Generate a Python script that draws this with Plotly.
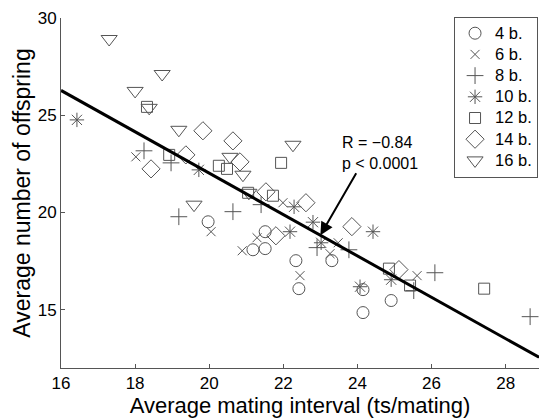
import numpy as np
import plotly.graph_objects as go

# Average mating interval (ts/mating) and average number of offspring per run,
# grouped by the number of bugs in the population.
x_4b = [19.97, 21.18, 21.51, 21.51, 22.34, 22.42, 23.31, 24.15, 24.91, 24.15]
y_4b = [19.52, 18.08, 18.14, 19.01, 17.52, 16.08, 17.52, 16.03, 15.47, 14.85]

x_6b = [18.02, 20.05, 20.89, 21.29, 21.99, 22.45, 23.26, 23.48, 25.61]
y_6b = [22.86, 19.01, 18.03, 18.70, 20.50, 16.75, 17.88, 18.44, 16.75]

x_8b = [18.24, 18.97, 19.18, 20.64, 21.40, 22.91, 23.77, 25.52, 26.09, 28.66]
y_8b = [23.17, 22.55, 19.78, 20.04, 20.40, 18.19, 18.08, 15.98, 16.90, 14.64]

x_10b = [16.43, 19.72, 22.29, 22.80, 22.18, 23.02, 24.42, 24.91, 24.07]
y_10b = [24.76, 22.19, 20.29, 19.50, 19.01, 18.44, 19.01, 16.54, 16.18]

x_12b = [18.32, 18.92, 20.26, 20.48, 21.05, 21.72, 21.94, 24.85, 25.42, 27.42]
y_12b = [25.43, 22.96, 22.40, 22.24, 21.01, 20.86, 22.55, 17.11, 16.24, 16.08]

x_14b = [19.83, 20.64, 18.43, 19.37, 20.83, 21.53, 22.61, 21.80, 23.85, 25.12]
y_14b = [24.20, 23.68, 22.24, 22.96, 22.60, 21.06, 20.50, 18.80, 19.27, 17.06]

x_16b = [17.30, 18.73, 18.00, 18.38, 19.18, 20.56, 20.91, 22.26, 19.59, 21.07]
y_16b = [28.92, 27.12, 26.25, 25.38, 24.25, 22.86, 21.94, 23.48, 20.40, 21.01]

series_names = ["4 b.", "6 b.", "8 b.", "10 b.", "12 b.", "14 b.", "16 b."]

# Least-squares fit line: y = fit_intercept + fit_slope * x
fit_slope = -1.064
fit_intercept = 43.30
fit_x_range = [16.0, 28.9]

# Correlation statistics shown on the chart
corr_r = "−0.84"
corr_p = "0.0001"

x_ticks = [16, 18, 20, 22, 24, 26, 28]
y_ticks = [15, 20, 25, 30]

MARK = "#555555"
FONT = "Liberation Sans, Arial, Helvetica, sans-serif"

groups = [
    (x_4b, y_4b, "circle-open", 12),
    (x_6b, y_6b, "x-thin-open", 9),
    (x_8b, y_8b, "cross-thin-open", 12),
    (x_10b, y_10b, "asterisk-open", 12),
    (x_12b, y_12b, "square-open", 11),
    (x_14b, y_14b, "diamond-open", 14),
    (x_16b, y_16b, "triangle-down-open", 14),
]

fig = go.Figure()

for name, (xs, ys, sym, size) in zip(series_names, groups):
    fig.add_trace(go.Scatter(
        x=xs, y=ys, mode="markers",
        # legend rows stay compact while the entry text is drawn a bit larger
        name=f"<span style='font-size:16.5px'>{name}</span>",
        marker=dict(symbol=sym, size=size, color=MARK,
                    line=dict(color=MARK, width=1)),
    ))

fit_x = np.array(fit_x_range)
fit_y = fit_intercept + fit_slope * fit_x
fig.add_trace(go.Scatter(
    x=fit_x, y=fit_y, mode="lines", showlegend=False,
    line=dict(color="black", width=3),
))

# Arrow pointing at the fitted line
arrow_tip_x = 23.0
arrow_tip_y = fit_intercept + fit_slope * arrow_tip_x
fig.add_annotation(
    x=arrow_tip_x, y=arrow_tip_y, ax=23.99, ay=22.09,
    xref="x", yref="y", axref="x", ayref="y",
    text="", showarrow=True, arrowhead=2, arrowsize=1.3,
    arrowwidth=2, arrowcolor="black",
)
fig.add_annotation(
    x=23.52, y=23.07, xref="x", yref="y",
    text=f"R = {corr_r}<br>p &lt; {corr_p}",
    showarrow=False, xanchor="left", yanchor="middle", align="left",
    font=dict(family=FONT, size=16, color="black"),
)

axis_common = dict(
    showline=True, linecolor=MARK, linewidth=1,
    ticks="inside", ticklen=4, tickcolor=MARK,
    showgrid=False, zeroline=False,
    tickfont=dict(family=FONT, size=17, color="black"),
)

fig.update_layout(
    width=539, height=418,
    margin=dict(l=61, r=0, t=18, b=50),
    paper_bgcolor="white", plot_bgcolor="white",
    xaxis=dict(range=fit_x_range, tickvals=x_ticks,
               title=dict(text="Average mating interval (ts/mating)",
                          font=dict(family=FONT, size=22, color="black"),
                          standoff=0),
               **axis_common),
    yaxis=dict(range=[12, 30], tickvals=y_ticks,
               title=dict(text="Average number of offspring",
                          font=dict(family=FONT, size=23, color="black"),
                          standoff=0),
               **axis_common),
    legend=dict(
        x=0.998, y=1.004, xanchor="right", yanchor="top",
        bordercolor=MARK, borderwidth=1, bgcolor="white",
        font=dict(family=FONT, size=14, color="black"),
        tracegroupgap=0, itemwidth=30,
    ),
    showlegend=True,
)

fig.write_html("out.html")
